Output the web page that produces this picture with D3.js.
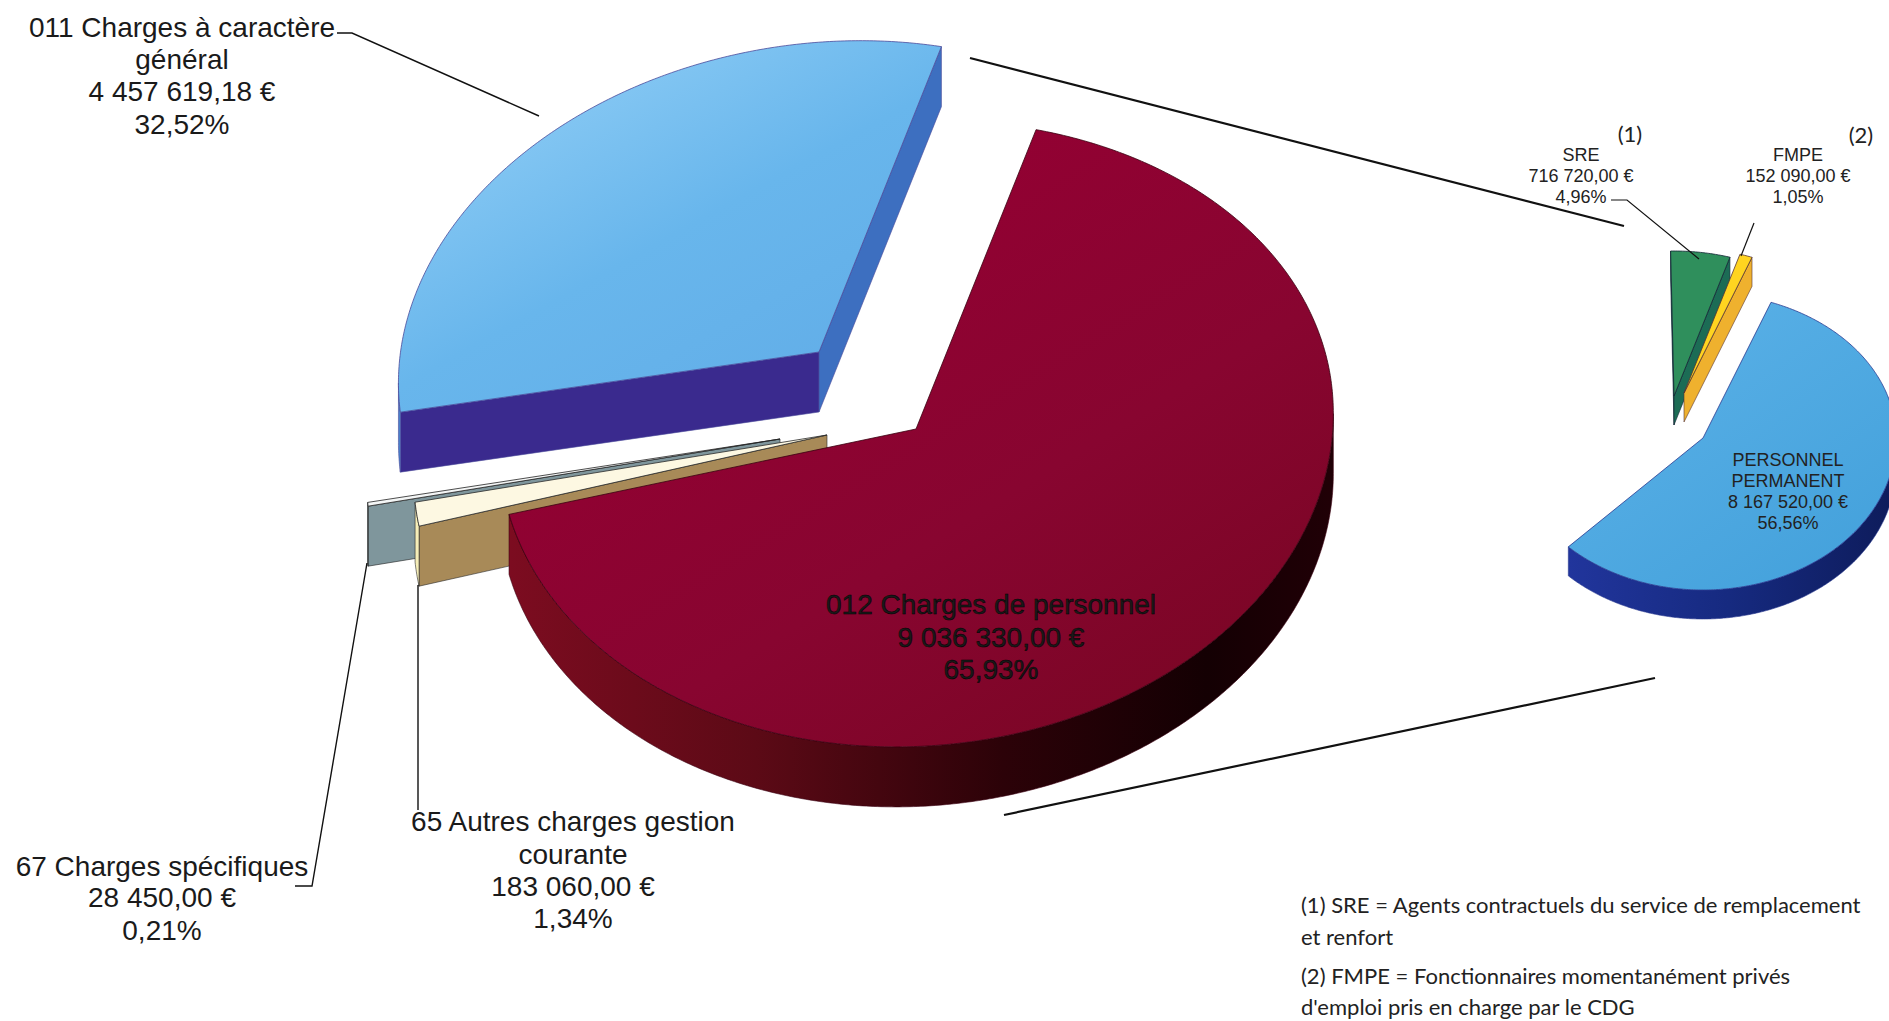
<!DOCTYPE html>
<html><head><meta charset="utf-8">
<script src="https://cdn.jsdelivr.net/npm/d3@7/dist/d3.min.js"></script>
<style>html,body{margin:0;padding:0;background:#fff;overflow:hidden}svg{display:block}</style>
</head><body><svg id="c" width="1889" height="1021"></svg>
<script>
// DATA
const mainNames = ["012","65","67","011"];
const mainValues = [9036330.00, 183060.00, 28450.00, 4457619.18];
const subNames = ["SRE","FMPE","PERM"];
const subPercents = [4.96, 1.05, 56.56];
const mainLabels = [
  {lines:["011 Charges à caractère","général","4 457 619,18 €","32,52%"], x:182, y:[37,69,101,134]},
  {lines:["65 Autres charges gestion","courante","183 060,00 €","1,34%"], x:573, y:[831,864,896,928]},
  {lines:["67 Charges spécifiques","28 450,00 €","0,21%"], x:162, y:[876,907,940]},
  {lines:["012 Charges de personnel","9 036 330,00 €","65,93%"], x:991, y:[614,647,679], stroke:true}
];
const subLabels = [
  {lines:["SRE","716 720,00 €","4,96%"], x:1581, y:[161,182,203]},
  {lines:["FMPE","152 090,00 €","1,05%"], x:1798, y:[161,182,203]},
  {lines:["PERSONNEL","PERMANENT","8 167 520,00 €","56,56%"], x:1788, y:[466,487,508,529]}
];
const marks = [{t:"(1)",x:1630,y:142},{t:"(2)",x:1861,y:143}];
const notes = [
  {t:"(1) SRE = Agents contractuels du service de remplacement",y:913},
  {t:"et renfort",y:945},
  {t:"(2) FMPE = Fonctionnaires momentanément privés",y:984},
  {t:"d'emploi pris en charge par le CDG",y:1015}
];
// GEOMETRY
const mainGeom = {a:418,b:312,bFar:302,tilt:-12.6,start:-62.3,depth:60};
const blueGeom = {a:423,b:308,bFar:308,tilt:-9,start:-66.5,depth:60};
const redGeom  = {a:418,b:317,bFar:307,tilt:-5,start:-69.6,depth:60};
const subGeom  = {a:193,b:152,bFar:145,tilt:0,start:-91,depth:29};
const slices = {
  "012":{tip:[916,429],top:"url(#gRed)",rim:"url(#gRedWall)",side:"#7b0c20",edge:"#3a0010"},
  "65":{tip:[827,435],top:"#fdf8e2",rim:"#f6eeb8",side:"#a88a58",edge:"#2a2a2a"},
  "67":{tip:[780,439],top:"#f4f6f6",rim:"#7f969c",side:"#7f969c",edge:"#222"},
  "011":{tip:[819,352],top:"url(#gBlue)",rim:"#4a86d0",side:"#3a2a8e",side2:"#3d6fc0",edge:"#4a4a9a"},
  "SRE":{tip:[1674,396],top:"#2f8f5c",rim:"#1c6c55",side:"#1c6c55",edge:"#123"},
  "FMPE":{tip:[1684,393],top:"#ffd420",rim:"#efb12e",side:"#efb12e",edge:"#533"},
  "PERM":{tip:[1703,438],top:"url(#gPerm)",rim:"url(#gPermWall)",side:"#1c2f92",edge:"#2a3a90"}
};
const svg = d3.select("#c");
const defs = svg.append("defs");
function grad(id,x1,y1,x2,y2,stops){
  const g=defs.append("linearGradient").attr("id",id).attr("gradientUnits","userSpaceOnUse")
    .attr("x1",x1).attr("y1",y1).attr("x2",x2).attr("y2",y2);
  stops.forEach(s=>g.append("stop").attr("offset",s[0]).attr("stop-color",s[1]));
}
grad("gRed",900,130,1250,700,[[0,"#940033"],[.55,"#880530"],[1,"#7a0624"]]);
grad("gRedWall",510,0,1330,0,[[0,"#7c0c20"],[.3,"#5c0a16"],[.6,"#2c0208"],[.85,"#140003"],[1,"#200006"]]);
grad("gBlue",600,40,800,400,[[0,"#8acaf4"],[.5,"#68b6ec"],[1,"#62aee8"]]);
grad("gPerm",1600,300,1800,590,[[0,"#5cb2e8"],[1,"#45a2dc"]]);
grad("gPermWall",1568,0,1889,0,[[0,"#21359c"],[.5,"#162a80"],[1,"#0e1c5c"]]);

const rad=d3.scaleLinear().domain([0,180]).range([0,Math.PI]);
const line=d3.line();
function project(g,tip,tDeg){
  const t=rad(tDeg),r=rad(g.tilt),c=Math.cos(r),s=Math.sin(r);
  const st=Math.sin(t);
  const p=g.a*Math.cos(t),q=(st<0?g.bFar:g.b)*st;
  return [tip[0]+p*c-q*s, tip[1]+p*s+q*c];
}
function drawSlice(parent,g,key,t0,t1){
  const st=slices[key],tip=st.tip;
  const n=Math.max(2,Math.ceil((t1-t0)/0.5));
  const rim=d3.range(n+1).map(i=>project(g,tip,t0+(t1-t0)*i/n));
  const down=p=>[p[0],p[1]+g.depth];
  const wall=(pts,fill)=>parent.append("path")
    .attr("d",line(pts.concat(pts.slice().reverse().map(down)))+"Z")
    .attr("fill",fill).attr("stroke",st.edge).attr("stroke-width",.6).attr("stroke-linejoin","round");
  if(rim[0][0]<tip[0]) wall([tip,rim[0]],st.side);
  if(tip[0]<rim[n][0]) wall([rim[n],tip],st.side2||st.side);
  let run=[];
  for(let i=0;i<n;i++){
    if(rim[i+1][0]<rim[i][0]){ if(!run.length) run.push(rim[i]); run.push(rim[i+1]); }
    else if(run.length){ wall(run,st.rim); run=[]; }
  }
  if(run.length) wall(run,st.rim);
  parent.append("path").attr("d",line([tip].concat(rim))+"Z")
    .attr("fill",st.top).attr("stroke",st.edge).attr("stroke-width",.8).attr("stroke-linejoin","round");
}
const mainArcs=d3.pie().sort(null)(mainValues);
const deg=v=>v*180/Math.PI;
const redEnd=deg(mainArcs[0].endAngle);
const warp=d3.scaleLinear().domain([0,redEnd,360]).range([0,242.3,360]);
const warpRed=d3.scaleLinear().domain([0,redEnd]).range([0,240.6]);
const gm=svg.append("g");
["67","65","011","012"].forEach(k=>{
  const a=mainArcs[mainNames.indexOf(k)];
  const g=k==="011"?blueGeom:k==="012"?redGeom:mainGeom;
  const w=k==="012"?warpRed:warp;
  drawSlice(gm,g,k,g.start+w(deg(a.startAngle)),g.start+w(deg(a.endAngle)));
});
const subArcs=d3.pie().sort(null).endAngle(2*Math.PI*d3.sum(subPercents)/100)(subPercents);
const gs=svg.append("g");
["PERM","SRE","FMPE"].forEach(k=>{
  const a=subArcs[subNames.indexOf(k)];
  drawSlice(gs,subGeom,k,subGeom.start+deg(a.startAngle),subGeom.start+deg(a.endAngle));
});
const leaders=[
  {p:[[337,33],[352,33],[539,116]],w:1.4},
  {p:[[970,58],[1624,226]],w:2.2},
  {p:[[1004,815],[1655,678]],w:2.2},
  {p:[[295,886],[312,886],[367,563]],w:1.4},
  {p:[[418,810],[418,585]],w:1.4},
  {p:[[1611,200],[1627,200],[1699,259]],w:1.2},
  {p:[[1754,223],[1741,256]],w:1.2}
];
svg.append("g").selectAll("path").data(leaders).join("path")
  .attr("d",d=>line(d.p)).attr("fill","none").attr("stroke","#111").attr("stroke-width",d=>d.w);
function block(list,size,fam,col){
  list.forEach(l=>l.lines.forEach((s,i)=>{
    const t=svg.append("text").attr("x",l.x).attr("y",l.y[i]).attr("text-anchor","middle")
      .attr("font-family",fam).attr("font-size",size).attr("fill",col).text(s);
    if(l.stroke) t.attr("stroke","#000").attr("stroke-width",.5);
  }));
}
block(mainLabels,28,"'Liberation Sans',Arial,sans-serif","#1a1a1a");
block(subLabels,18,"'Liberation Sans',Arial,sans-serif","#222");
svg.append("g").selectAll("text").data(marks).join("text")
  .attr("x",d=>d.x).attr("y",d=>d.y).attr("text-anchor","middle")
  .attr("font-family","Lato,sans-serif").attr("font-size",22).attr("fill","#222").text(d=>d.t);
svg.append("g").selectAll("text").data(notes).join("text")
  .attr("x",1301).attr("y",d=>d.y)
  .attr("font-family","Lato,sans-serif").attr("font-size",22).attr("fill","#222").text(d=>d.t);
</script></body></html>
